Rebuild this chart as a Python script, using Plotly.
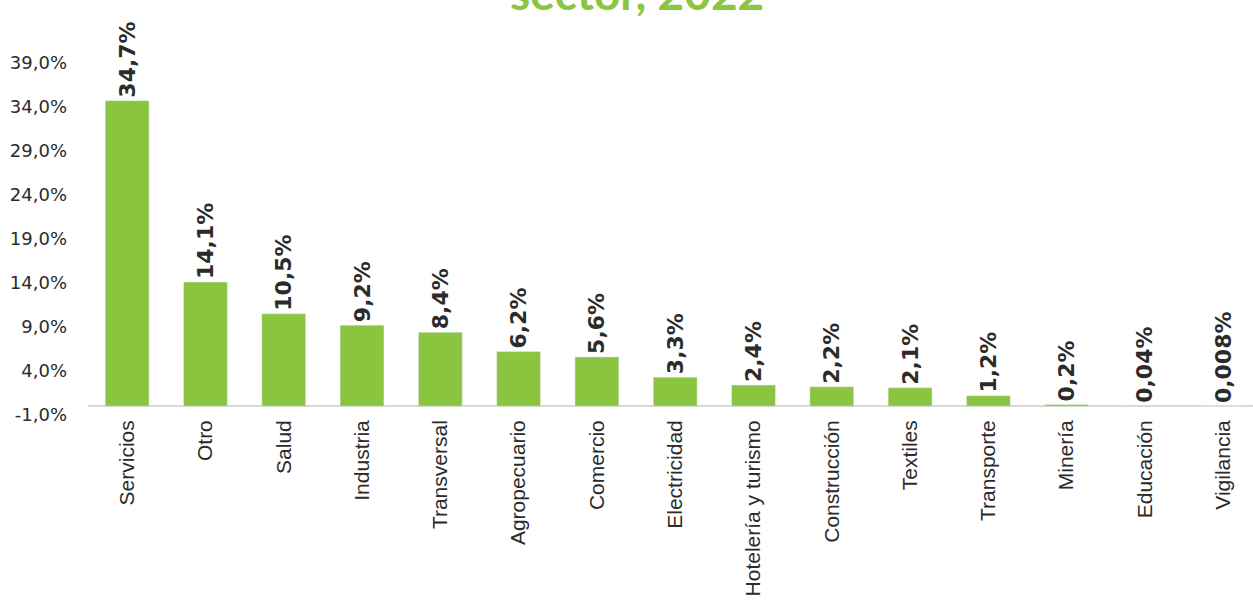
import plotly.graph_objects as go

categories = ["Servicios", "Otro", "Salud", "Industria", "Transversal", "Agropecuario",
              "Comercio", "Electricidad", "Hotelería y turismo", "Construcción",
              "Textiles", "Transporte", "Minería", "Educación", "Vigilancia"]
values = [34.7, 14.1, 10.5, 9.2, 8.4, 6.2, 5.6, 3.3, 2.4, 2.2, 2.1, 1.2, 0.2, 0.04, 0.008]
labels = ["34,7%", "14,1%", "10,5%", "9,2%", "8,4%", "6,2%", "5,6%", "3,3%", "2,4%",
          "2,2%", "2,1%", "1,2%", "0,2%", "0,04%", "0,008%"]
y_ticks = [-1, 4, 9, 14, 19, 24, 29, 34, 39]
y_ticktext = ["-1,0%", "4,0%", "9,0%", "14,0%", "19,0%", "24,0%", "29,0%", "34,0%", "39,0%"]
title_text = "sector, 2022"

green = "#8BC540"
dark = "#2b2b2b"

fig = go.Figure(go.Bar(
    x=categories, y=values, text=labels, textposition="outside", textangle=-90,
    cliponaxis=False, constraintext="none",
    textfont=dict(family="DejaVu Sans", size=22, color=dark, weight="bold"),
    marker=dict(color=green), width=0.56,
))

L, T, B = 88, 54, 194
plot_w = 1253 - L
plot_h = 609 - T - B

fig.update_layout(
    width=1253, height=609,
    margin=dict(l=L, r=0, t=T, b=B),
    plot_bgcolor="white", paper_bgcolor="white",
    showlegend=False,
    uniformtext=dict(minsize=22, mode="show"),
    font=dict(family="Liberation Sans", color=dark),
    xaxis=dict(
        range=[-0.5, 14.38], tickangle=-90, showline=False, showgrid=False,
        tickfont=dict(family="Liberation Sans", size=21, color=dark),
        ticks="", automargin=False,
    ),
    yaxis=dict(
        range=[-1, 40], tickvals=y_ticks, ticktext=y_ticktext,
        showgrid=False, showline=False, zeroline=True, zerolinecolor="#d9d9d9",
        zerolinewidth=2, ticks="", ticklabelstandoff=20, automargin=False,
        tickfont=dict(family="DejaVu Sans", size=18, color=dark),
    ),
    annotations=[dict(
        text=title_text, xref="paper", yref="paper", x=(637 - L) / plot_w,
        y=1 + (T - 22) / plot_h, xanchor="center", yanchor="bottom", showarrow=False,
        font=dict(family="Lato", size=46, color="#8CC63F", weight="bold"),
    )],
)

fig.write_html("out.html", config={"displayModeBar": False},
               post_script="document.body.style.margin='0';")
